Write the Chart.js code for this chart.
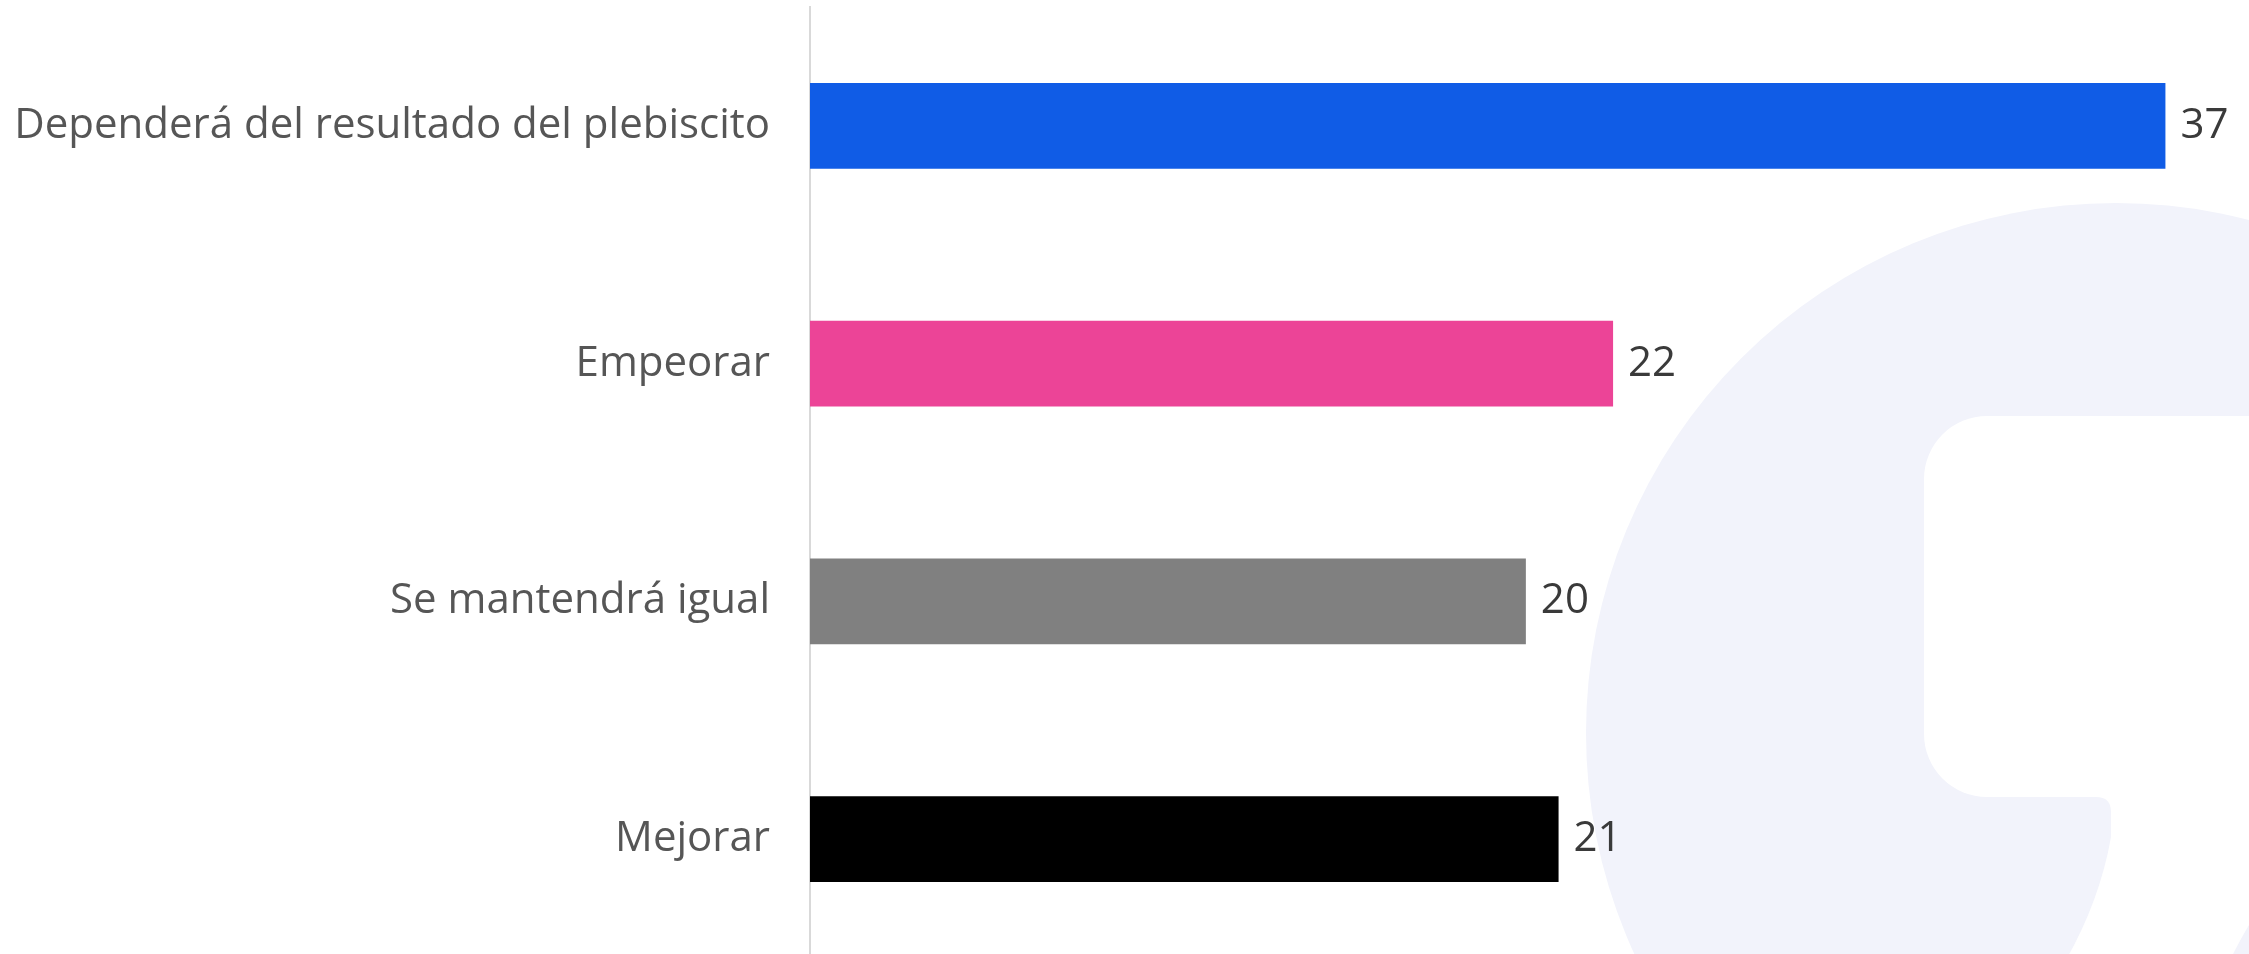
<!DOCTYPE html>
<html>
<head>
<meta charset="utf-8">
<script src="https://cdn.jsdelivr.net/npm/chart.js@4"></script>
<style>
  html, body { margin: 0; padding: 0; background: #fff; overflow: hidden; }
  canvas { display: block; }
</style>
</head>
<body>
<canvas id="bars" width="2249" height="960"></canvas>
<script>
const categories = ['Dependerá del resultado del plebiscito', 'Empeorar', 'Se mantendrá igual', 'Mejorar'];
const values = [37.3, 22.1, 19.7, 20.6];
const barColors = ['#105ce6', '#ec4497', '#808080', '#000000'];

// faint logo behind the chart
const watermark = {
  id: 'watermark',
  beforeDraw(chart) {
    const ctx = chart.ctx;
    ctx.save();
    ctx.fillStyle = '#f2f3fb';
    ctx.beginPath();
    ctx.arc(2116, 733, 530, 0, Math.PI * 2);
    ctx.fill();
    ctx.fillStyle = '#ffffff';
    ctx.beginPath();
    ctx.roundRect(1924, 416, 500, 381, 63);
    ctx.fill();
    ctx.beginPath();
    ctx.moveTo(2096, 797);
    ctx.quadraticCurveTo(2111, 797, 2111, 812);
    ctx.lineTo(2111, 837);
    ctx.quadraticCurveTo(2100, 900, 2066, 960);
    ctx.lineTo(2230, 960);
    ctx.quadraticCurveTo(2240, 940, 2249, 925);
    ctx.lineTo(2249, 790);
    ctx.closePath();
    ctx.fill();
    ctx.restore();
  }
};

// numbers at the end of each bar
const valueLabels = {
  id: 'valueLabels',
  afterDatasetsDraw(chart) {
    const ctx = chart.ctx;
    ctx.save();
    ctx.font = '42px "Open Sans"';
    ctx.fillStyle = '#3a3a3a';
    ctx.textAlign = 'left';
    ctx.textBaseline = 'middle';
    chart.getDatasetMeta(0).data.forEach((bar, i) => {
      ctx.fillText(Math.round(values[i]), bar.x + 15, bar.y);
    });
    ctx.restore();
  }
};

new Chart(document.getElementById('bars'), {
  type: 'bar',
  data: {
    labels: categories,
    datasets: [{
      data: values,
      backgroundColor: barColors,
      barPercentage: 0.6,
      categoryPercentage: 0.6,
    }],
  },
  options: {
    indexAxis: 'y',
    responsive: false,
    animation: false,
    layout: { padding: { top: 7, bottom: 2, left: 0, right: 0 } },
    plugins: {
      legend: { display: false },
      tooltip: { enabled: false },
    },
    scales: {
      x: {
        display: false,
        min: 0,
        max: 39.6,
      },
      y: {
        afterFit(scale) {
          scale.width = 810;
          scale.paddingTop = 0;
          scale.paddingBottom = 0;
        },
        grid: { display: false, drawTicks: false },
        border: { display: true, color: '#d9d9d9', width: 2 },
        ticks: {
          padding: 40,
          color: '#565656',
          font: { family: 'Open Sans', size: 42 },
        },
      },
    },
  },
  plugins: [watermark, valueLabels],
});
</script>
</body>
</html>
